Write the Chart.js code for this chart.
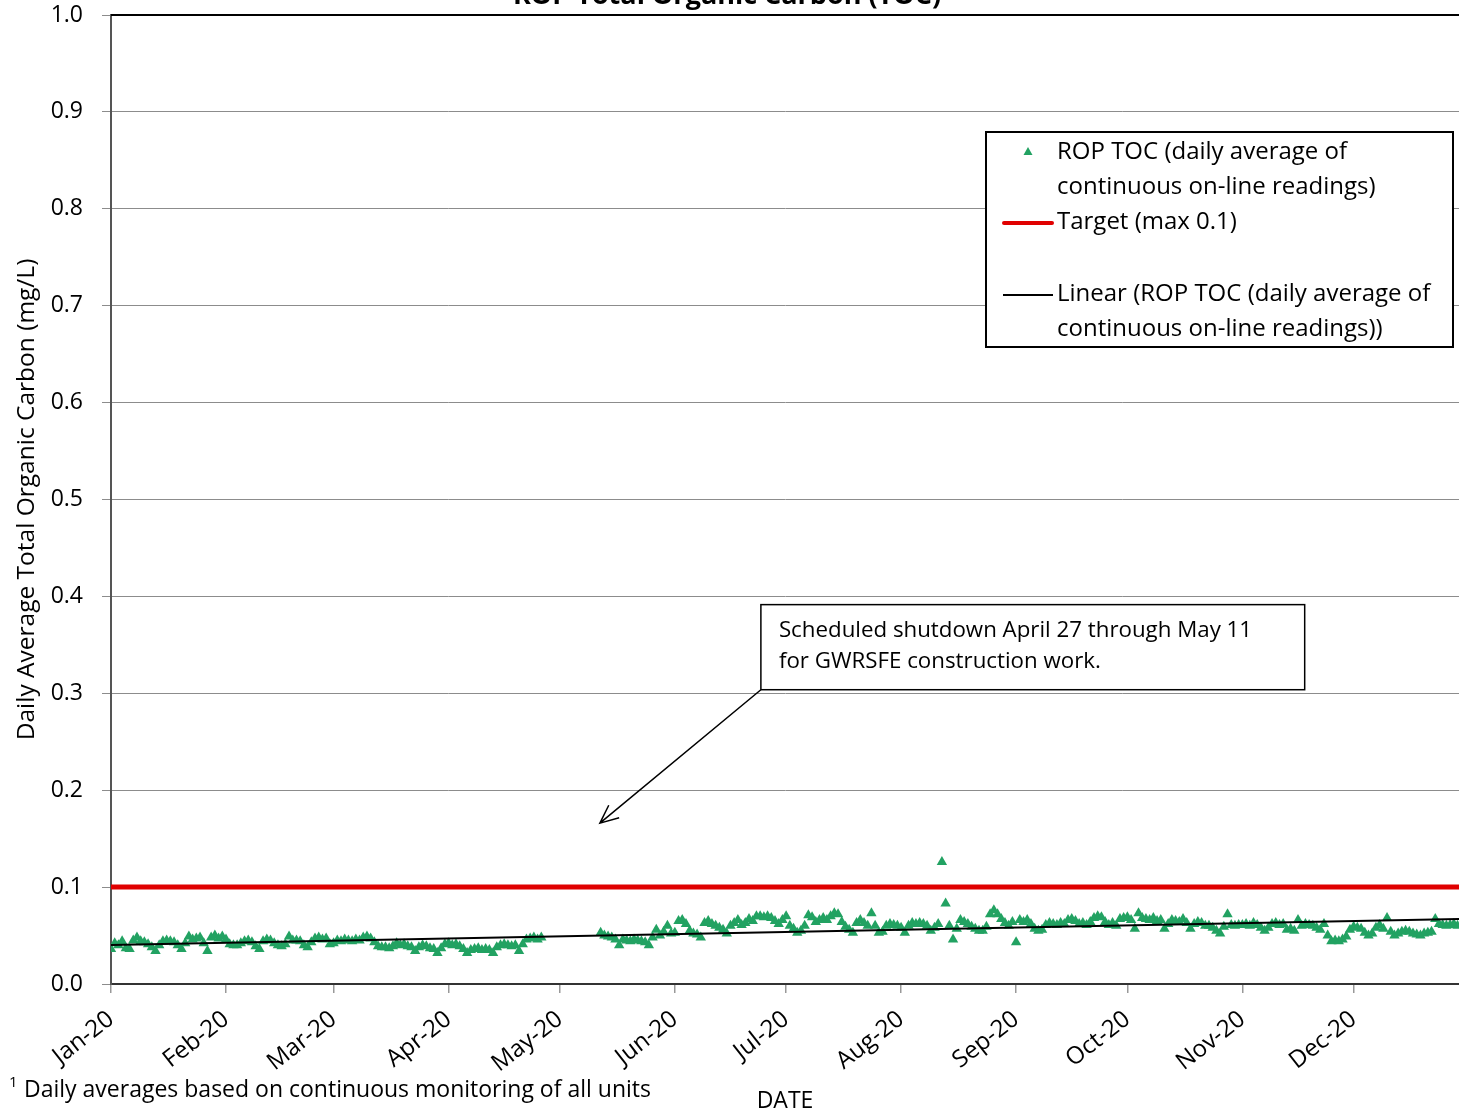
<!DOCTYPE html>
<html>
<head>
<meta charset="utf-8">
<script src="https://cdn.jsdelivr.net/npm/chart.js@4.4.1/dist/chart.umd.min.js"></script>
<style>
  html, body { margin: 0; padding: 0; background: #fff; }
  #wrap { width: 1459px; height: 1115px; position: relative; }
</style>
</head>
<body>
<div id="wrap"><canvas id="tocChart" width="1459" height="1115"></canvas></div>
<script>
// daily ROP TOC (mg/L), one array per month
const jan = [.036,.042,.040,.044,.037,.036,.045,.048,.044,.043,.041,.038,.034,.040,.044,.045,.044,.043,.040,.036,.042,.049,.046,.047,.048,.042,.034,.048,.050,.047,.049];
const feb = [.046,.041,.040,.040,.042,.044,.045,.043,.039,.036,.044,.046,.045,.042,.040,.039,.041,.049,.045,.045,.044,.040,.038,.043,.047,.048,.046,.047,.041];
const mar = [.042,.045,.044,.046,.045,.044,.046,.045,.048,.049,.047,.043,.039,.038,.038,.037,.039,.042,.040,.041,.039,.038,.034,.038,.040,.039,.037,.036,.032,.037,.041];
const apr = [.042,.040,.041,.039,.036,.032,.035,.036,.037,.035,.036,.035,.032,.038,.040,.041,.040,.039,.040,.034,.041,.046,.047,.048,.046,.048,null,null,null,null];
const may = [null,null,null,null,null,null,null,null,null,null,null,.053,.050,.049,.048,.046,.040,.046,.045,.044,.046,.045,.044,.043,.040,.048,.056,.050,.054,.060,.052];
const jun = [.053,.065,.066,.062,.055,.052,.051,.048,.063,.065,.062,.060,.058,.056,.052,.060,.063,.066,.061,.063,.067,.065,.070,.070,.069,.070,.068,.065,.062,.066];
const jul = [.070,.060,.057,.053,.055,.060,.071,.069,.064,.066,.068,.066,.070,.073,.072,.064,.059,.056,.053,.063,.066,.063,.060,.073,.060,.053,.054,.060,.062,.061,.060];
const aug = [.058,.053,.060,.063,.062,.063,.062,.060,.055,.058,.062,.126,.083,.060,.046,.057,.066,.064,.062,.059,.057,.055,.055,.059,.072,.076,.072,.067,.063,.060,.064];
const sep = [.043,.066,.064,.066,.062,.057,.055,.056,.061,.063,.062,.061,.063,.062,.066,.067,.065,.062,.063,.061,.064,.068,.070,.069,.064,.061,.063,.060,.067,.068];
const oct = [.069,.066,.057,.073,.068,.067,.066,.068,.065,.066,.057,.062,.066,.065,.064,.067,.063,.057,.062,.064,.063,.060,.060,.058,.055,.052,.059,.072,.061,.060,.061];
const nov = [.061,.062,.060,.063,.061,.058,.055,.058,.062,.063,.061,.062,.056,.057,.055,.066,.060,.062,.061,.060,.058,.056,.062,.050,.044,.045,.044,.046,.049,.056];
const dec = [.059,.058,.057,.053,.050,.052,.058,.061,.057,.068,.054,.050,.052,.054,.055,.054,.052,.051,.050,.052,.053,.054,.067,.062,.061,.060,.061,.062,.060];

const monthLabels = ["Jan-20","Feb-20","Mar-20","Apr-20","May-20","Jun-20","Jul-20","Aug-20","Sep-20","Oct-20","Nov-20","Dec-20"];
const monthStartDays = [0,31,60,91,121,152,182,213,244,274,305,335];
const tocByMonth = [jan,feb,mar,apr,may,jun,jul,aug,sep,oct,nov,dec];

const targetValue = 0.1;
const trendEnds = [0.0403, 0.0671]; // linear trendline at first / last day shown
const lastDay = 363.4;
const yTicks = [0,0.1,0.2,0.3,0.4,0.5,0.6,0.7,0.8,0.9,1.0];

const FONT = '"Open Sans", "Noto Sans", sans-serif';
const GREEN = "#22a262";

const tocPoints = [];
tocByMonth.forEach((vals, m) => {
  vals.forEach((v, i) => {
    if (v !== null) tocPoints.push({ x: monthStartDays[m] + i, y: v });
  });
});

function txt(ctx, s, x, y, size, opts = {}) {
  ctx.font = (opts.bold ? "bold " : "") + size + "px " + FONT;
  ctx.fillStyle = opts.color || "#000";
  ctx.textAlign = opts.align || "left";
  ctx.textBaseline = opts.baseline || "middle";
  ctx.fillText(s, x, y);
}

const decorations = {
  id: "decorations",
  afterDraw(chart) {
    const { ctx, chartArea, scales } = chart;
    const x = scales.x, y = scales.y;
    ctx.save();

    // top border of plot area
    ctx.strokeStyle = "#000";
    ctx.lineWidth = 2;
    ctx.beginPath();
    ctx.moveTo(chartArea.left, chartArea.top);
    ctx.lineTo(chartArea.right, chartArea.top);
    ctx.stroke();

    // title (mostly cut off at the top)
    txt(ctx, "ROP Total Organic Carbon (TOC)", 727, 4, 27, { bold: true, align: "center", baseline: "alphabetic" });

    // footnote
    txt(ctx, "1", 9, 1083, 15);
    txt(ctx, "Daily averages based on continuous monitoring of all units", 24, 1090, 23);

    // annotation box + arrow
    const bx1 = x.getPixelForValue(175.2), by1 = y.getPixelForValue(0.3915);
    const bx2 = x.getPixelForValue(321.8), by2 = y.getPixelForValue(0.3037);
    ctx.fillStyle = "#fff";
    ctx.fillRect(bx1, by1, bx2 - bx1, by2 - by1);
    ctx.strokeStyle = "#000";
    ctx.lineWidth = 1.5;
    ctx.strokeRect(bx1, by1, bx2 - bx1, by2 - by1);
    txt(ctx, "Scheduled shutdown April 27 through May 11", bx1 + 18, by1 + 26, 22.3);
    txt(ctx, "for GWRSFE construction work.", bx1 + 18, by1 + 57, 22.3);

    const tx = x.getPixelForValue(131.8), ty = y.getPixelForValue(0.166);
    ctx.beginPath();
    ctx.moveTo(bx1, by2);
    ctx.lineTo(tx, ty);
    const ang = Math.atan2(by2 - ty, bx1 - tx);
    const hl = 20, spread = 0.42;
    ctx.moveTo(tx + hl * Math.cos(ang + spread), ty + hl * Math.sin(ang + spread));
    ctx.lineTo(tx, ty);
    ctx.lineTo(tx + hl * Math.cos(ang - spread), ty + hl * Math.sin(ang - spread));
    ctx.stroke();

    // legend
    const lx = 986, ly = 132, lw = 467, lh = 215;
    ctx.fillStyle = "#fff";
    ctx.fillRect(lx, ly, lw, lh);
    ctx.strokeStyle = "#000";
    ctx.lineWidth = 2;
    ctx.strokeRect(lx, ly, lw, lh);

    ctx.fillStyle = GREEN;
    ctx.beginPath();
    ctx.moveTo(1028, 147);
    ctx.lineTo(1032.5, 155);
    ctx.lineTo(1023.5, 155);
    ctx.closePath();
    ctx.fill();
    txt(ctx, "ROP TOC (daily average of", 1057, 152, 24);
    txt(ctx, "continuous on-line readings)", 1057, 187, 24);

    ctx.strokeStyle = "#e00000";
    ctx.lineWidth = 4;
    ctx.lineCap = "round";
    ctx.beginPath();
    ctx.moveTo(1004, 223);
    ctx.lineTo(1052, 223);
    ctx.stroke();
    txt(ctx, "Target (max 0.1)", 1057, 222, 24);

    ctx.strokeStyle = "#000";
    ctx.lineWidth = 2;
    ctx.lineCap = "butt";
    ctx.beginPath();
    ctx.moveTo(1003, 295);
    ctx.lineTo(1053, 295);
    ctx.stroke();
    txt(ctx, "Linear (ROP TOC (daily average of", 1057, 294, 24);
    txt(ctx, "continuous on-line readings))", 1057, 329, 24);

    ctx.restore();
  }
};

new Chart(document.getElementById("tocChart"), {
  type: "scatter",
  data: {
    datasets: [
      {
        label: "Target (max 0.1)",
        type: "line",
        data: [{ x: 0, y: targetValue }, { x: lastDay, y: targetValue }],
        borderColor: "#e00000",
        borderWidth: 5,
        pointRadius: 0,
        order: 1
      },
      {
        label: "Linear (ROP TOC (daily average of continuous on-line readings))",
        type: "line",
        data: [{ x: 0, y: trendEnds[0] }, { x: lastDay, y: trendEnds[1] }],
        borderColor: "#000",
        borderWidth: 2,
        pointRadius: 0,
        order: 2
      },
      {
        label: "ROP TOC (daily average of continuous on-line readings)",
        data: tocPoints,
        pointStyle: "triangle",
        pointRadius: 6,
        backgroundColor: GREEN,
        borderColor: GREEN,
        borderWidth: 0,
        order: 3
      }
    ]
  },
  options: {
    responsive: false,
    animation: false,
    layout: { autoPadding: false, padding: { top: 15, left: 0, right: 0, bottom: 0 } },
    plugins: {
      legend: { display: false },
      tooltip: { enabled: false }
    },
    scales: {
      x: {
        type: "linear",
        min: 0,
        max: lastDay,
        afterBuildTicks: (scale) => {
          scale.ticks = monthStartDays.map((d) => ({ value: d }));
        },
        afterFit: (scale) => {
          scale.height = 131;
          scale.paddingLeft = 0;
          scale.paddingRight = 0;
        },
        ticks: {
          autoSkip: false,
          minRotation: 38,
          maxRotation: 38,
          padding: 12,
          color: "#000",
          font: { family: FONT, size: 24 },
          callback: (v) => monthLabels[monthStartDays.indexOf(v)]
        },
        grid: {
          drawOnChartArea: false,
          drawTicks: true,
          tickLength: 9,
          color: "#999",
          lineWidth: 1.5
        },
        border: { color: "#333", width: 2 },
        title: {
          display: true,
          text: "DATE",
          color: "#000",
          font: { family: FONT, size: 23 },
          padding: { top: 0, bottom: 0 }
        }
      },
      y: {
        min: 0,
        max: 1,
        afterBuildTicks: (scale) => {
          scale.ticks = yTicks.map((v) => ({ value: v }));
        },
        afterFit: (scale) => {
          scale.width = 111;
          scale.paddingTop = 0;
          scale.paddingBottom = 0;
        },
        ticks: {
          padding: 19,
          color: "#000",
          font: { family: FONT, size: 23 },
          callback: (v) => v.toFixed(1)
        },
        grid: {
          color: "#8c8c8c",
          lineWidth: 1,
          drawTicks: true,
          tickLength: 9
        },
        border: { color: "#555", width: 2 },
        title: {
          display: true,
          text: "Daily Average Total Organic Carbon (mg/L)",
          color: "#000",
          font: { family: FONT, size: 24.5 },
          padding: { top: 12, bottom: 0 }
        }
      }
    }
  },
  plugins: [decorations]
});
</script>
</body>
</html>
